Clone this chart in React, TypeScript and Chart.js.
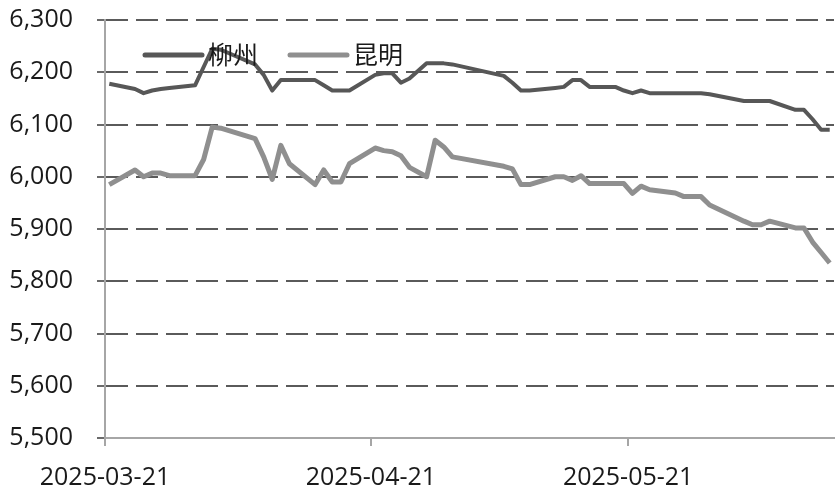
import React, { useEffect, useRef } from "react";
import { Chart, registerables } from "chart.js";

Chart.register(...registerables);

const dates: string[] = [
  "2025-03-21", "2025-03-24", "2025-03-25", "2025-03-26", "2025-03-27", "2025-03-28", "2025-03-31",
  "2025-04-01", "2025-04-02", "2025-04-03", "2025-04-07", "2025-04-08", "2025-04-09", "2025-04-10", "2025-04-11",
  "2025-04-14", "2025-04-15", "2025-04-16", "2025-04-17", "2025-04-18", "2025-04-21", "2025-04-22", "2025-04-23",
  "2025-04-24", "2025-04-25", "2025-04-27", "2025-04-28", "2025-04-29", "2025-04-30",
  "2025-05-06", "2025-05-07", "2025-05-08", "2025-05-09", "2025-05-12", "2025-05-13", "2025-05-14", "2025-05-15",
  "2025-05-16", "2025-05-19", "2025-05-20", "2025-05-21", "2025-05-22", "2025-05-23", "2025-05-26", "2025-05-27",
  "2025-05-28", "2025-05-29", "2025-05-30",
  "2025-06-03", "2025-06-04", "2025-06-05", "2025-06-06", "2025-06-09", "2025-06-10", "2025-06-11", "2025-06-12", "2025-06-13",
];

const liuzhou: number[] = [
  6178, 6168, 6160, 6165, 6168, 6170, 6175,
  6210, 6245, 6243, 6215, 6195, 6165, 6185, 6185,
  6185, 6175, 6165, 6165, 6165, 6195, 6198, 6198,
  6180, 6188, 6217, 6217, 6217, 6215,
  6193, 6180, 6165, 6165, 6170, 6172, 6185, 6185,
  6172, 6172, 6165, 6160, 6165, 6160, 6160, 6160,
  6160, 6160, 6158,
  6145, 6145, 6145, 6145, 6128, 6128, 6110, 6090, 6090,
];

const kunming: number[] = [
  5985, 6013, 6000, 6007, 6007, 6002, 6002,
  6033, 6095, 6093, 6073, 6038, 5995, 6060, 6025,
  5985, 6013, 5990, 5990, 6025, 6055, 6050, 6048,
  6040, 6018, 6000, 6070, 6057, 6038,
  6020, 6015, 5985, 5985, 6000, 6000, 5993, 6002,
  5987, 5987, 5987, 5968, 5982, 5975, 5969, 5962,
  5962, 5962, 5946,
  5915, 5908, 5908, 5915, 5902, 5902, 5875, 5855, 5835,
];

const seriesNames: string[] = ["柳州", "昆明"];
const seriesColors: string[] = ["#575757", "#8f8f8f"];
const xTickLabels: string[] = ["2025-03-21", "2025-04-21", "2025-05-21"];
const xEndDate = "2025-06-14";
const yMin = 5500;
const yMax = 6300;
const yStep = 100;

const dayMs = 86400000;
const startMs = Date.parse(dates[0] + "T00:00:00Z");
const dayOf = (d: string) => Math.round((Date.parse(d + "T00:00:00Z") - startMs) / dayMs);

const legendPlugin = {
  id: "insideLegend",
  afterDatasetsDraw(chart: any) {
    const { ctx, chartArea } = chart;
    const y = chartArea.top + 35;
    const starts = [chartArea.left + 40, chartArea.left + 185];
    chart.data.datasets.forEach((ds: any, i: number) => {
      const x0 = starts[i];
      ctx.save();
      ctx.strokeStyle = ds.borderColor;
      ctx.lineWidth = 5;
      ctx.lineCap = "round";
      ctx.beginPath();
      ctx.moveTo(x0, y);
      ctx.lineTo(x0 + 57, y);
      ctx.stroke();
      ctx.fillStyle = "#1a1a1a";
      ctx.font = '25px "Noto Sans CJK SC"';
      ctx.textBaseline = "middle";
      ctx.textAlign = "left";
      ctx.fillText(ds.label, x0 + 63, y - 1);
      ctx.restore();
    });
  },
};

export default function App() {
  const ref = useRef<HTMLCanvasElement | null>(null);
  useEffect(() => {
    if (!ref.current) return;
    const toPoints = (vals: number[]) => vals.map((v, i) => ({ x: dayOf(dates[i]) + 0.5, y: v }));
    const tickDays = xTickLabels.map(dayOf);
    const chart = new Chart(ref.current, {
      type: "line",
      data: {
        datasets: [
          {
            label: seriesNames[0],
            data: toPoints(liuzhou),
            borderColor: seriesColors[0],
            backgroundColor: seriesColors[0],
            borderWidth: 4,
            pointRadius: 0,
            tension: 0,
            borderJoinStyle: "round",
          },
          {
            label: seriesNames[1],
            data: toPoints(kunming),
            borderColor: seriesColors[1],
            backgroundColor: seriesColors[1],
            borderWidth: 5,
            pointRadius: 0,
            tension: 0,
            borderJoinStyle: "round",
          },
        ],
      },
      options: {
        animation: false,
        responsive: false,
        layout: { padding: { left: 0, right: 5, top: 20, bottom: 0 } },
        plugins: { legend: { display: false }, tooltip: { enabled: false } },
        scales: {
          x: {
            type: "linear",
            min: 0,
            max: dayOf(xEndDate),
            afterBuildTicks: (scale: any) => {
              scale.ticks = tickDays.map((v) => ({ value: v }));
            },
            afterFit: (scale: any) => {
              scale.height = 59;
              scale.paddingLeft = 0;
              scale.paddingRight = 0;
            },
            ticks: {
              autoSkip: false,
              maxRotation: 0,
              padding: 17,
              color: "#1a1a1a",
              font: { family: "Open Sans", size: 25 },
              callback: (v: any) => {
                const idx = tickDays.indexOf(Number(v));
                return idx >= 0 ? xTickLabels[idx] : "";
              },
            },
            grid: {
              drawOnChartArea: false,
              drawTicks: true,
              tickLength: 8,
              tickColor: "#a6a6a6",
              lineWidth: 2,
            },
            border: { color: "#a6a6a6", width: 2 },
          },
          y: {
            min: yMin,
            max: yMax,
            afterFit: (scale: any) => {
              scale.width = 105;
              scale.paddingTop = 0;
              scale.paddingBottom = 0;
            },
            ticks: {
              stepSize: yStep,
              padding: 24,
              color: "#1a1a1a",
              font: { family: "Open Sans", size: 25 },
              callback: (v: any) => Number(v).toLocaleString("en-US"),
            },
            grid: {
              color: "#5a5a5a",
              lineWidth: 2,
              tickBorderDash: [],
              tickLength: 8,
              tickColor: "#6a6a6a",
            },
            border: { color: "#a6a6a6", width: 2, dash: [22, 8] },
          },
        },
      },
      plugins: [legendPlugin],
    } as any);
    return () => chart.destroy();
  }, []);
  return (
    <div style={{ position: "absolute", left: 0, top: 0, width: 839, height: 497, background: "#fff" }}>
      <canvas ref={ref} width={839} height={497} style={{ display: "block" }} />
    </div>
  );
}
